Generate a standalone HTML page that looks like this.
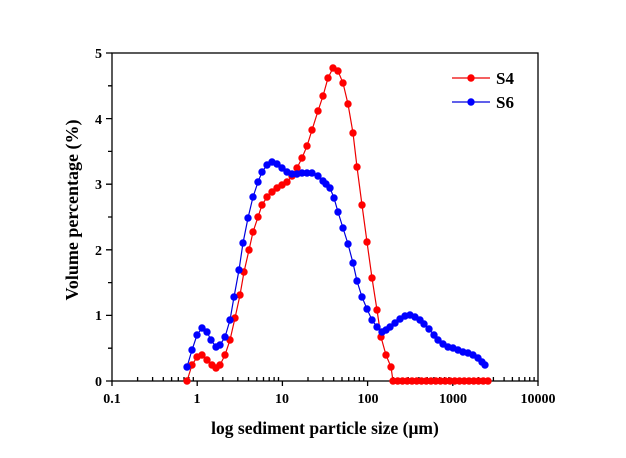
<!DOCTYPE html>
<html><head><meta charset="utf-8"><style>body{margin:0;background:#fff}svg{display:block}text{font-family:"Liberation Serif",serif;font-weight:bold}</style></head><body>
<svg width="626" height="458" viewBox="0 0 626 458" xmlns="http://www.w3.org/2000/svg">
<defs>
<marker id="mr" markerUnits="userSpaceOnUse" markerWidth="10" markerHeight="10" refX="5" refY="5" viewBox="0 0 10 10"><circle cx="5" cy="5" r="3.7" fill="#f00"/></marker>
<marker id="mb" markerUnits="userSpaceOnUse" markerWidth="10" markerHeight="10" refX="5" refY="5" viewBox="0 0 10 10"><circle cx="5" cy="5" r="3.7" fill="#00f"/></marker>
</defs>
<g stroke="#000" stroke-width="1.3" fill="none">
<path d="M137.6 381v-4M152.6 381v-4M163.3 381v-4M171.6 381v-4M178.3 381v-4M184 381v-4M188.9 381v-4M193.3 381v-4
M222.8 381v-4M237.8 381v-4M248.5 381v-4M256.8 381v-4M263.5 381v-4M269.2 381v-4M274.1 381v-4M278.5 381v-4
M308 381v-4M323 381v-4M333.7 381v-4M342 381v-4M348.7 381v-4M354.4 381v-4M359.3 381v-4M363.7 381v-4
M393.2 381v-4M408.2 381v-4M418.9 381v-4M427.2 381v-4M433.9 381v-4M439.6 381v-4M444.5 381v-4M448.9 381v-4
M478.4 381v-4M493.4 381v-4M504.1 381v-4M512.4 381v-4M519.1 381v-4M524.8 381v-4M529.7 381v-4M534.1 381v-4
M112 381v5M197.2 381v5M282.4 381v5M367.6 381v5M452.8 381v5M538 381v5
M112 381h-6M112 348.2h-4M112 315.4h-6M112 282.6h-4M112 249.8h-6M112 217h-4M112 184.2h-6M112 151.4h-4M112 118.6h-6M112 85.8h-4M112 53h-6"/>
<rect x="112" y="53" width="426" height="328"/>
</g>
<polyline fill="none" stroke="#e00" stroke-width="1.2" marker-start="url(#mr)" marker-mid="url(#mr)" marker-end="url(#mr)" points="187,381 192,365 197,357 202,355 207,360 212,365 216,368 220,365 225,355 230,340 235,318 240,295 244,272 249,250 253,232 258,217 262,205 267,197 272,192 277,188 282,185 287,182 292,176 297,168 302,158 307,146 312,130 318,111 323,96 328,78 333,68 338,71 343,83 348,104 353,133 357,167 362,205 367,242 372,278 377,310 381,337 386,355 391,367 393,381 397.75,381 402.5,381 407.25,381 412,381 416.75,381 421.5,381 426.25,381 431,381 435.75,381 440.5,381 445.25,381 450,381 454.75,381 459.5,381 464.25,381 469,381 473.75,381 478.5,381 483.25,381 488,381"/>
<polyline fill="none" stroke="#00d" stroke-width="1.2" marker-start="url(#mb)" marker-mid="url(#mb)" marker-end="url(#mb)" points="187,367 192,350 197,335 202,328 207,332 211,340 216,347 220,345 225,337 230,320 234,297 239,270 243,243 248,218 253,197 258,182 262,172 267,165 272,162 277,164 282,168 287,172 292,174 297,174 302,173 307,173 312,173 318,176 323,181 326,184 330,188 334,198 338,212 343,228 348,244 353,263 357,281 362,297 367,309 372,320 377,327 382,332 386,330 390,327 395,323 400,319 405,316 410,315 415,317 420,320 424,324 429,329 434,335 438,340 443,344 448,347 453,348 458,350 463,352 468,353 473,355 478,358 482,362 485,365"/>
<g font-size="14" text-anchor="middle">
<text x="112" y="403">0.1</text><text x="197" y="403">1</text><text x="282" y="403">10</text><text x="368" y="403">100</text><text x="453" y="403">1000</text><text x="538" y="403">10000</text>
</g>
<g font-size="14" text-anchor="end">
<text x="102" y="386">0</text><text x="102" y="320">1</text><text x="102" y="255">2</text><text x="102" y="189">3</text><text x="102" y="124">4</text><text x="102" y="58">5</text>
</g>
<text x="325" y="434" font-size="17.5" text-anchor="middle">log sediment particle size (μm)</text>
<text transform="translate(78,210) rotate(-90)" font-size="18" text-anchor="middle">Volume percentage (%)</text>
<line x1="452" y1="78" x2="490" y2="78" stroke="#e00" stroke-width="1.2"/><circle cx="471" cy="78" r="3.7" fill="#f00"/>
<line x1="452" y1="102" x2="490" y2="102" stroke="#00d" stroke-width="1.2"/><circle cx="471" cy="102" r="3.7" fill="#00f"/>
<text x="496" y="84" font-size="17">S4</text><text x="496" y="108" font-size="17">S6</text>
</svg></body></html>
